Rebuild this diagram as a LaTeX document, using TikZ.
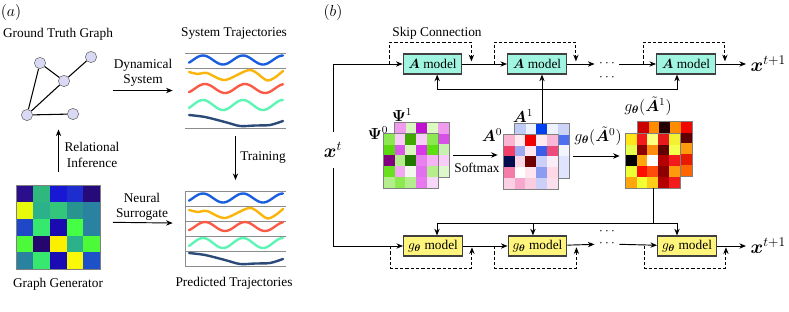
\documentclass[tikz,border=0pt]{standalone}
\usepackage{fontspec}
\setmainfont{Liberation Serif}
\usepackage{bm}
\usetikzlibrary{arrows.meta,calc}

\definecolor{wblue}{HTML}{1A5EE0}
\definecolor{worange}{HTML}{FBB40A}
\definecolor{wred}{HTML}{FA5A46}
\definecolor{wmint}{HTML}{5CF5B4}
\definecolor{wnavy}{HTML}{2B4A78}

% 5x5 Farbmatrix in Knoten #1, Zellgroesse #2
\newcommand{\heatmap}[3]{%
  \foreach \c [count=\i from 0] in {#3} {
    \pgfmathtruncatemacro{\col}{mod(\i,5)}
    \pgfmathtruncatemacro{\row}{\i/5}
    \definecolor{cell}{HTML}{\c}
    \fill[cell] ($(#1.north west)+(\col*#2,\row*#2)$) rectangle +(#2,#2);
  }
  \draw[matline] (#1.north west) rectangle (#1.south east);
}

\begin{document}
\begin{tikzpicture}[x=0.75pt,y=-0.75pt,
  every node/.style={font=\fontsize{10}{11.5}\selectfont},
  vert/.style={circle,fill={rgb,255:red,217;green,217;blue,243},draw=black!60,inner sep=0pt,minimum size=8.5pt},
  arr/.style={-{Stealth[length=5pt,width=4pt]},line width=0.7pt},
  skip/.style={arr,dash pattern=on 2.5pt off 1.5pt},
  amod/.style={draw=black!75,line width=0.9pt,fill={rgb,255:red,160;green,245;blue,225},minimum width=44pt,minimum height=15pt,inner sep=0pt},
  gmod/.style={amod,fill={rgb,255:red,255;green,245;blue,125}},
  mat/.style={inner sep=0pt,minimum size=40.5pt},
  matline/.style={draw=black!50,line width=0.9pt},
  wave/.style={line width=1.8pt,line cap=round},
  grid/.style={draw=black!45,line width=0.6pt}]
  \useasboundingbox (0,0) rectangle (789,311);

  % (a)
  \node[font=\large] (la) at (11,12) {$(a)$};
  \node (gttitle) at (58,34) {Ground Truth Graph};
  \node (systitle) at (234,34) {System Trajectories};
  \node (gentitle) at (58,284) {Graph Generator};
  \node (predtitle) at (234,283) {Predicted Trajectories};

  % Graph
  \node[vert] (v1) at (40,63) {};
  \node[vert] (v2) at (91,57) {};
  \node[vert] (v3) at (64,81) {};
  \node[vert] (v4) at (27,115) {};
  \node[vert] (v5) at (73,114) {};
  \foreach \from/\to in {v1/v3, v1/v4, v3/v2, v3/v4, v4/v5}
    \draw[line width=0.8pt] (\from) -- (\to);

  % Trajektorien
  \node[inner sep=0pt,minimum width=75.75pt,minimum height=56.25pt] (sys) at (235.5,90.5) {};
  \node[inner sep=0pt,minimum width=75.75pt,minimum height=56.25pt] (pred) at (235.5,228.5) {};
  \foreach \y in {53,68,128,191,206,221,236,251,266}
    \draw[grid] (185,\y) -- (286,\y);
  \draw[grid] (185,191) -- (185,266);
  \foreach \dy in {0,138} {
    \begin{scope}[shift={(0,\dy)}]
      \draw[wave,wblue] plot[domain=189:283,samples=60,smooth] (\x,{60-4.5*cos(9*(\x-203))});
      \draw[wave,worange] plot[smooth] coordinates {(189,72) (198,74) (207,73) (225,80) (250,70) (268,80.5) (283,71)};
      \draw[wave,wred] plot[domain=189:283,samples=60,smooth] (\x,{88.5-4.5*cos(9*(\x-205))});
      \draw[wave,wmint] plot[domain=189:283,samples=60,smooth] (\x,{105-5*cos(9*(\x-203))});
      \draw[wave,wnavy] plot[smooth] coordinates {(189,115) (205,117) (225,122) (240,126) (255,125.5) (270,125) (283,121)};
    \end{scope}
  }

  % Generator
  \node[inner sep=0pt,minimum size=62.25pt] (gen) at (58.5,227.5) {};
  \heatmap{gen}{16.6}{2A0E8C,2EB87E,1818D4,1E2ECE,260A7A,
    E6FA0A,2BB28A,33C57C,27948F,2882A0,
    1E48C8,36E86E,1A0BB0,44FF44,2882A0,
    4CFA3A,24066E,FAF000,2BB28A,4CFA3A,
    2882A0,36E86E,1A0BB4,FAFA08,1E50C8}

  % Pfeile (a)
  \draw[arr,shorten <=12pt,shorten >=9pt] (v2.east |- sys.west) -- (sys.west);
  \node[align=center] (dyn) at (143,73) {Dynamical\\System};
  \draw[arr,shorten <=6pt,shorten >=8pt] (sys.south) -- (pred.north);
  \node (train) at (263,158) {Training};
  \draw[arr,shorten <=10.5pt,shorten >=6.4pt] (gen.north) -- (gen.north |- v4.south);
  \node[align=center] (rel) at (92,155) {Relational\\Inference};
  \draw[arr,shorten <=9.4pt,shorten >=9pt] ([yshift=4pt]gen.east) -- ([yshift=4pt]pred.west);
  \node[align=center] (sur) at (142,207) {Neural\\Surrogate};

  % (b)
  \node[font=\large] (lb) at (333,12) {$(b)$};
  \node[amod] (am1) at (432.5,64) {$\bm{A}$ model};
  \node[amod] (am2) at (537,64) {$\bm{A}$ model};
  \node[amod] (am3) at (686,64) {$\bm{A}$ model};
  \node[gmod] (gm1) at (433,246) {$g_{\bm{\theta}}$ model};
  \node[gmod] (gm2) at (537.5,246) {$g_{\bm{\theta}}$ model};
  \node[gmod] (gm3) at (687,246) {$g_{\bm{\theta}}$ model};
  \node[font=\Large,minimum height=26pt] (xt) at (333,150) {$\bm{x}^t$};
  \node[font=\Large,anchor=west] (xA) at (746,64) {$\bm{x}^{t+1}$};
  \node[font=\Large,anchor=west] (xG) at (746,246) {$\bm{x}^{t+1}$};
  \node (dA) at (607,64) {$\cdots$};
  \node (dA2) at (607,78) {$\cdots$};
  \node (dG) at (607,244) {$\cdots$};
  \node (dG2) at (607,232) {$\cdots$};
  \node (skiplab) at (437,33) {Skip Connection};

  \draw[arr] (xt.north) |- (am1.west);
  \draw[arr] (xt.south) |- (gm1.west);
  \foreach \from/\to in {am1/am2, am2/dA, dA/am3, am3/xA, gm1/gm2, gm2/dG, dG/gm3, gm3/xG}
    \draw[arr] (\from) -- (\to);
  \foreach \b in {am1,am2,am3}
    \draw[skip] ([xshift=-9.75pt]\b.west) -- ++(0,-22) -| ([xshift=6.75pt,yshift=2pt]\b.east);
  \foreach \b in {gm1,gm2,gm3}
    \draw[skip] ([xshift=-9.75pt]\b.west) -- ++(0,22) -| ([xshift=6.75pt,yshift=-1pt]\b.east);

  % Matrizen
  \node[mat] (mPsi1) at (422,150) {};
  \heatmap{mPsi1}{10.8}{F09AF0,DAF7C0,C010D0,DAFAC0,F09AF0,
    E8B0F0,C8F0B0,F0C0F0,B0E890,D850E8,
    C8F0B0,F0C0F0,B0E890,E8B0F0,C8F0B0,
    E8B0F0,C8F0B0,F0C0F0,B0E890,F8CCF8,
    C8F0B0,F0C0F0,B0E890,E8B0F0,DCF8CC}
  \node[mat] (mPsi0) at (411,161) {};
  \heatmap{mPsi0}{10.8}{8CE850,FACCFA,40A800,FACCFA,8CE850,
    5AD810,D858E8,DAF7C0,D838E8,5CE010,
    800080,B4EE8C,207800,E880F0,F4B4F4,
    68E020,F4A8F4,F2F8EE,E070EE,B4EE8C,
    B4EE8C,8CEA50,B4EE8C,E878EE,F8D8FA}
  \node[mat] (mA1) at (542,151) {};
  \heatmap{mA1}{10.8}{C0CCF8,EEF2FE,0040F0,EEF2FE,CCD4F8,
    F0F0FE,F0F0FE,F0F0FE,F0F0FE,4C70F0,
    F0F0FE,F0F0FE,F0F0FE,F0F0FE,F2F4FE,
    F0F0FE,F0F0FE,F0F0FE,F0F0FE,E0E4FE,
    F0F0FE,F0F0FE,F0F0FE,F0F0FE,E0E4FE}
  \node[mat] (mA0) at (531,162) {};
  \heatmap{mA0}{10.8}{F8B4D0,FFEAF0,F00000,FFEAF0,F8B8D8,
    F04068,9CA8F0,FFE6F0,3C5CE8,EC4C7C,
    000C50,FAD8E6,700000,CCD0F8,FAEEF6,
    F47CA8,FFFFFF,FFE6EE,8C9CF0,FFD8E6,
    FAD0E4,F8A8CC,FACCE0,CCD0F8,FAE0EC}
  \node[mat] (mG1) at (665,149) {};
  \heatmap{mG1}{10.8}{CC0000,FF8C00,240000,FF8C00,F00800,
    FF8C00,CC0000,FF8C00,CC0000,600000,
    CC0000,FF8C00,CC0000,FF8C00,FF9A0C,
    FF8C00,CC0000,FF8C00,CC0000,E81A00,
    CC0000,FF8C00,CC0000,FF8C00,FF6600}
  \node[mat] (mG0) at (653,161) {};
  \heatmap{mG0}{10.8}{FFE61A,F21A1A,FFFF80,E61A1A,F2F233,
    E6FF4C,8C0000,FF8C0C,600000,F2FF4C,
    000000,FFA60C,FFFFFF,B40000,F21A1A,
    EBFF33,FF0D00,FF4C0D,8C0000,FF9A0C,
    FFA60C,F2FF33,FFCC1A,B40000,F21A1A}

  \node[font=\large] (lPsi1) at (402,115) {$\bm{\Psi}^1$};
  \node[font=\large] (lPsi0) at (378,133) {$\bm{\Psi}^0$};
  \node[font=\large] (lA1) at (523,116) {$\bm{A}^1$};
  \node[font=\large] (lA0) at (492,135) {$\bm{A}^0$};
  \node[font=\large,inner sep=0pt] (lG1) at (648,106) {$g_{\bm{\theta}}(\tilde{\bm{A}}^1)$};
  \node[font=\large,inner sep=0pt] (lG0) at (598,136) {$g_{\bm{\theta}}(\tilde{\bm{A}}^0)$};

  % Softmax und g
  \draw[arr,shorten <=3pt,shorten >=4.5pt] ([yshift=-3.75pt]mPsi1.east) -- ([yshift=-3.75pt]mPsi1.east -| mA0.west);
  \node (softmax) at (477,168) {Softmax};
  \draw[arr,shorten <=3pt,shorten >=4.5pt] ([yshift=-3.75pt]mA1.east) -- ([yshift=-3.75pt]mA1.east -| mG0.west);

  % Rueckfuehrung
  \coordinate (fbA) at (542,89);
  \draw[arr] (mA1.north) -- (mA1.north |- am2.south);
  \draw[arr] (fbA) -| ([xshift=3.5pt]am1.south);
  \draw[arr] (fbA) -| ([xshift=-6.75pt]am3.south);
  \coordinate (fbG) at (653,223);
  \draw[line width=0.7pt] (mG0.south) -- (fbG);
  \draw[arr] (fbG) -| ([xshift=3pt]gm1.north);
  \draw[arr] (fbG) -| ([xshift=-3.4pt]gm2.north);
  \draw[arr] (fbG) -| ([xshift=-7.5pt]gm3.north);
\end{tikzpicture}
\end{document}
